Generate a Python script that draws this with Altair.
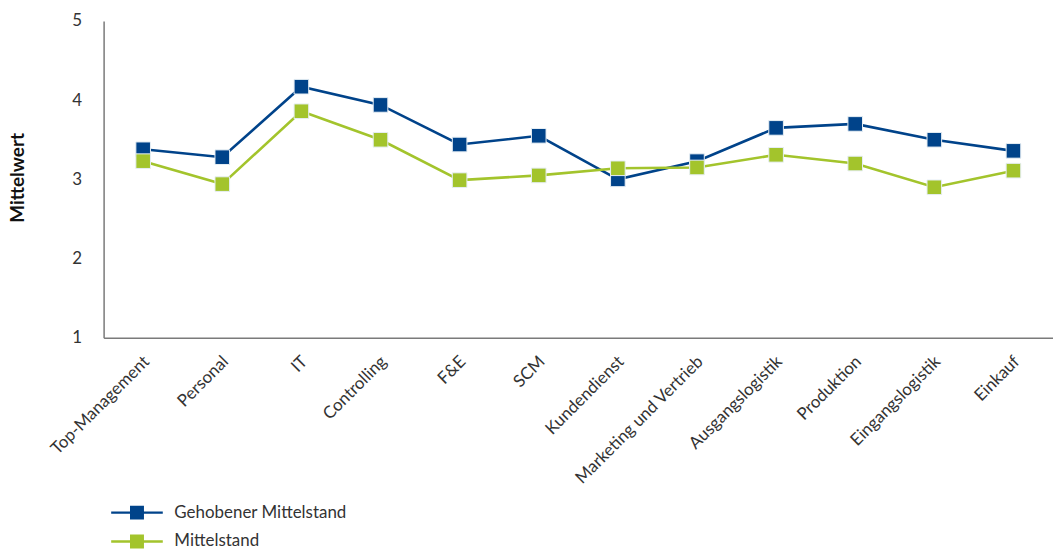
import altair as alt
import pandas as pd

bereiche = [
    "Top-Management", "Personal", "IT", "Controlling", "F&E", "SCM",
    "Kundendienst", "Marketing und Vertrieb", "Ausgangslogistik",
    "Produktion", "Eingangslogistik", "Einkauf",
]
gehobener_mittelstand = [3.38, 3.28, 4.17, 3.94, 3.44, 3.55, 3.00, 3.23, 3.65, 3.70, 3.50, 3.36]
mittelstand = [3.23, 2.94, 3.86, 3.50, 2.99, 3.05, 3.14, 3.15, 3.31, 3.20, 2.90, 3.11]

serien = ["Gehobener Mittelstand", "Mittelstand"]
farben = ["#00438a", "#a3c42c"]

rows = []
for name, werte in zip(serien, [gehobener_mittelstand, mittelstand]):
    for b, v in zip(bereiche, werte):
        rows.append({"Bereich": b, "Gruppe": name, "Linie": name, "Mittelwert": v})
df = pd.DataFrame(rows)

FONT = "Lato"
TEXT = "#333333"

x = alt.X(
    "Bereich:N", sort=bereiche, title=None,
    scale=alt.Scale(type="point", padding=0.5),
    axis=alt.Axis(labelAngle=-45, labelAlign="right", labelBaseline="middle",
                  labelPadding=21, labelOffset=3, ticks=False, domainColor="#7a7a7a",
                  domainWidth=1.5, labelFontSize=17, labelColor=TEXT, labelFont=FONT,
                  labelLimit=0),
)
y = alt.Y(
    "Mittelwert:Q", title="Mittelwert",
    scale=alt.Scale(domain=[1, 5], nice=False, zero=False),
    axis=alt.Axis(values=[1, 2, 3, 4, 5], ticks=False, grid=False, domainColor="#7a7a7a",
                  domainWidth=1.5, labelPadding=22, labelFontSize=17, labelColor=TEXT,
                  labelFont=FONT, labelOverlap=False, labelFlush=False,
                  titleFont=FONT, titleFontSize=19, titleFontWeight="bold",
                  titleColor="#111111", titleAngle=-90, titleX=-86, titleY=157,
                  titleAlign="center", titleBaseline="middle"),
)

# legend glyph: a short line with a square in its middle
legend_symbol = "M-3.7,-0.17H3.7V0.17H-3.7Z M-1,-1H1V1H-1Z"

lines = alt.Chart(df).mark_line(strokeWidth=2.6).encode(
    x=x, y=y,
    stroke=alt.Stroke("Linie:N", scale=alt.Scale(range=farben), legend=None),
)
points = alt.Chart(df).mark_point(shape="square", filled=True, size=215, opacity=1,
                                  stroke="#e6eef4", strokeWidth=1).encode(
    x=x, y=y,
    color=alt.Color(
        "Gruppe:N", scale=alt.Scale(domain=serien, range=farben),
        legend=alt.Legend(
            title=None, orient="none", legendX=25, legendY=485,
            symbolType=legend_symbol, symbolSize=196, symbolStrokeWidth=0,
            labelOffset=29, labelFontSize=17, labelFont=FONT, labelColor=TEXT,
            labelLimit=0, rowPadding=11, padding=0, direction="vertical",
        ),
    ),
)

chart = alt.layer(lines, points).properties(
    width=953, height=318,
    padding={"left": 104, "top": 20, "right": 0, "bottom": 213},
    autosize=alt.AutoSizeParams(type="none"),
    background="white",
).configure_view(stroke=None)

chart.save("out.html", embed_options={"renderer": "svg", "actions": False})
